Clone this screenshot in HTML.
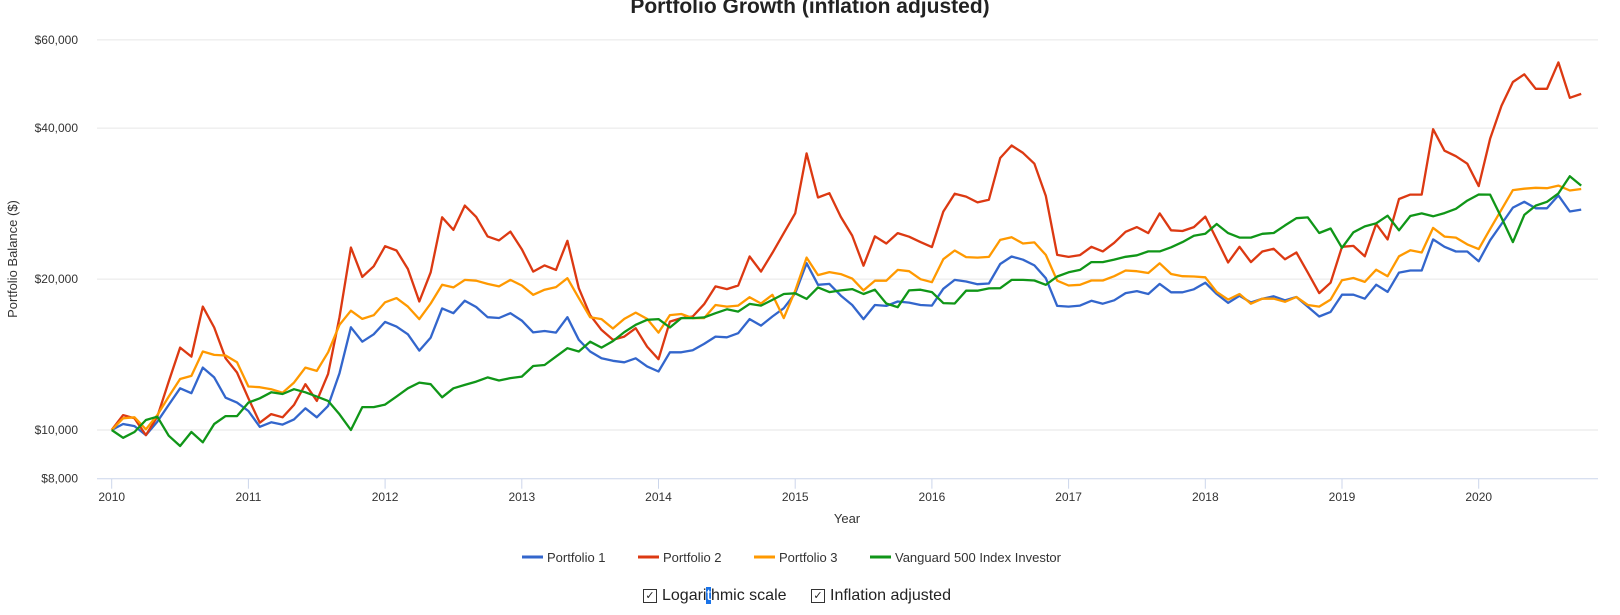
<!DOCTYPE html>
<html><head><meta charset="utf-8"><style>
html,body{margin:0;padding:0;background:#fff;}
body{width:1620px;height:615px;overflow:hidden;position:relative;font-family:"Liberation Sans",Arial,sans-serif;}
svg{position:absolute;left:0;top:0;}
.ctl{position:absolute;top:587px;font-size:16px;color:#222;display:flex;align-items:center;}
.box{display:inline-block;width:12px;height:12px;border:1px solid #333;margin-right:5px;font-size:11px;line-height:12px;text-align:center;}
</style></head><body>
<svg id="chart" width="1620" height="615"></svg>
<div class="ctl" style="left:643px"><span class="box">✓</span><span>Logari<span style="background:#1a73e8;color:#fff">t</span>hmic scale</span></div>
<div class="ctl" style="left:811px"><span class="box">✓</span><span>Inflation adjusted</span></div>
<script>
const yTicks=[8000,10000,20000,40000,60000];
const yTickLabels=["$8,000","$10,000","$20,000","$40,000","$60,000"];
const years=[2010,2011,2012,2013,2014,2015,2016,2017,2018,2019,2020];
const seriesNames=["Portfolio 1","Portfolio 2","Portfolio 3","Vanguard 500 Index Investor"];
const p1=[10000,10280,10180,9770,10390,11220,12110,11840,13320,12730,11600,11340,10910,10150,10360,10250,10500,11050,10600,11170,12980,16030,15000,15520,16430,16080,15520,14400,15290,17480,17100,18110,17590,16790,16730,17100,16530,15660,15760,15640,
16790,15130,14340,13900,13740,13650,13900,13390,13080,14290,14290,14430,14850,15360,15310,15600,16640,16150,16840,17500,18740,21510,19480,19560,18540,17760,16640,17760,17680,18040,17950,17760,17710,19130,19930,19780,19540,19600,21440,22190,21860,21300,20080,17680,17630,17710,
18100,17860,18140,18750,18930,18680,19560,18820,18820,19080,19670,18680,17930,18520,17960,18280,18480,18140,18420,17610,16840,17200,18620,18620,18280,19490,18860,20610,20810,20810,24000,23200,22700,22700,21700,23900,25760,27770,28530,27680,27680,29370,27280,27520];
const p2=[10000,10710,10550,9770,10630,12490,14600,14010,17630,16010,13900,13020,11570,10340,10760,10600,11220,12340,11430,12940,16790,23120,20200,21210,23260,22810,20950,18040,20630,26560,25070,28030,26610,24330,23890,24880,22940,20700,21300,20860,
23850,19180,16950,15840,15130,15360,15960,14670,13840,16450,16720,16840,17820,19340,19100,19420,22190,20700,22560,24700,27060,35630,29100,29680,26610,24420,21270,24340,23550,24700,24300,23700,23170,27270,29600,29220,28440,28800,34880,36940,35700,33980,29310,22350,22150,22330,
23200,22710,23630,24850,25390,24710,27040,25030,24940,25390,26650,24000,21580,23200,21620,22700,22990,21900,22600,20610,18750,19670,23200,23290,22210,25760,24000,28890,29480,29480,39810,36070,35170,33980,30660,38100,44350,49460,51230,47940,47940,54110,45990,46830];
const p3=[10000,10550,10600,10030,10710,11660,12640,12820,14340,14120,14080,13650,12210,12170,12060,11870,12430,13320,13120,14290,16210,17300,16660,16940,17980,18330,17630,16640,17880,19480,19250,19930,19850,19560,19340,19930,19420,18610,19050,19280,
20080,18330,16790,16640,15940,16660,17150,16660,15640,16950,17040,16720,16720,17760,17630,17710,18400,17880,18610,16720,18960,22080,20370,20650,20460,20050,18990,19850,19850,20860,20740,19990,19720,21910,22810,22130,22080,22150,23950,24240,23550,23670,22350,19850,19420,19480,
19870,19870,20270,20810,20740,20570,21500,20470,20270,20240,20170,18860,18200,18680,17860,18280,18280,18020,18420,17760,17630,18200,19900,20100,19740,20880,20270,22210,22830,22600,25300,24310,24200,23460,22950,25160,27520,30100,30290,30420,30370,30730,30050,30250];
const vfinx=[10000,9650,9910,10470,10630,9740,9290,9910,9450,10280,10660,10660,11340,11570,11890,11800,12060,11890,11660,11430,10750,10000,11110,11110,11240,11660,12110,12430,12340,11620,12110,12300,12490,12730,12550,12690,12780,13420,13480,14010,
14560,14340,15000,14600,15040,15680,16210,16590,16640,16010,16720,16720,16770,17100,17410,17230,17850,17710,18180,18680,18740,18260,19250,18840,18990,19100,18680,19050,17880,17580,18990,19050,18840,17910,17880,18960,18960,19160,19180,19930,19930,19870,19480,20240,20630,20860,
21620,21620,21870,22160,22310,22710,22710,23140,23700,24410,24630,25760,24710,24200,24200,24630,24720,25590,26460,26550,24720,25230,23090,24800,25480,25840,26760,25030,26720,27040,26690,27080,27620,28680,29500,29480,26510,23700,26860,28030,28530,29650,32080,30730];
const seriesData=[p1,p2,p3,vfinx];
const colors=["#3366cc","#dc3912","#ff9900","#109618"];

const NS="http://www.w3.org/2000/svg";
const svg=document.getElementById('chart');
const X0=111.7, YR=136.7, LEFT=97, RIGHT=1598, BASE=478.7;
function xScale(i){return X0+i*YR/12;}
function xYear(y){return X0+(y-years[0])*YR;}
function yScale(v){return 430-(Math.log10(v)-4)*501.3;}
function el(tag,attrs,parent){const e=document.createElementNS(NS,tag);for(const k in attrs)e.setAttribute(k,attrs[k]);(parent||svg).appendChild(e);return e;}

let t=el('text',{x:810,y:13,'text-anchor':'middle','font-size':'21','font-weight':'bold',fill:'#222'});
t.textContent="Portfolio Growth (inflation adjusted)";



yTicks.forEach((v,k)=>{
  const y=yScale(v);
  if(k>0){const g=el('line',{x1:LEFT,x2:RIGHT,y1:y,y2:y,stroke:'#e6e6e6','stroke-width':1});
  
  }
  const l=el('text',{x:78,y:y+4,'text-anchor':'end','font-size':'12',fill:'#333'});
  l.textContent=yTickLabels[k];
  
  
});
const ax=el('line',{x1:LEFT,x2:RIGHT,y1:BASE,y2:BASE,stroke:'#ccd6eb','stroke-width':1});


years.forEach(yr=>{
  const x=xYear(yr);
  const tk=el('line',{x1:x,x2:x,y1:BASE,y2:BASE+10,stroke:'#ccd6eb','stroke-width':1});
  
  
  const l=el('text',{x:x,y:501,'text-anchor':'middle','font-size':'12',fill:'#333'});
  l.textContent=String(yr);
  
  
});
let xt=el('text',{x:847,y:523,'text-anchor':'middle','font-size':'13',fill:'#333'});
xt.textContent="Year";


let yt=el('text',{x:0,y:0,'text-anchor':'middle','font-size':'13',fill:'#333',transform:'translate(17,259) rotate(-90)'});
yt.textContent="Portfolio Balance ($)";



seriesData.forEach((d,s)=>{
  const pts=d.map((v,i)=>xScale(i).toFixed(1)+','+yScale(v).toFixed(1)).join(' ');
  const p=el('polyline',{points:pts,fill:'none',stroke:colors[s],'stroke-width':2.3,'stroke-linejoin':'round'});
  
  
});

const legX=[522,638,754,870];
seriesNames.forEach((n,s)=>{
  const g=el('g',{});
  
  
  el('line',{x1:legX[s],x2:legX[s]+21,y1:557,y2:557,stroke:colors[s],'stroke-width':3},g);
  const tx=el('text',{x:legX[s]+25,y:562,'font-size':'13',fill:'#333'},g);
  tx.textContent=n;
});
</script>
</body></html>
